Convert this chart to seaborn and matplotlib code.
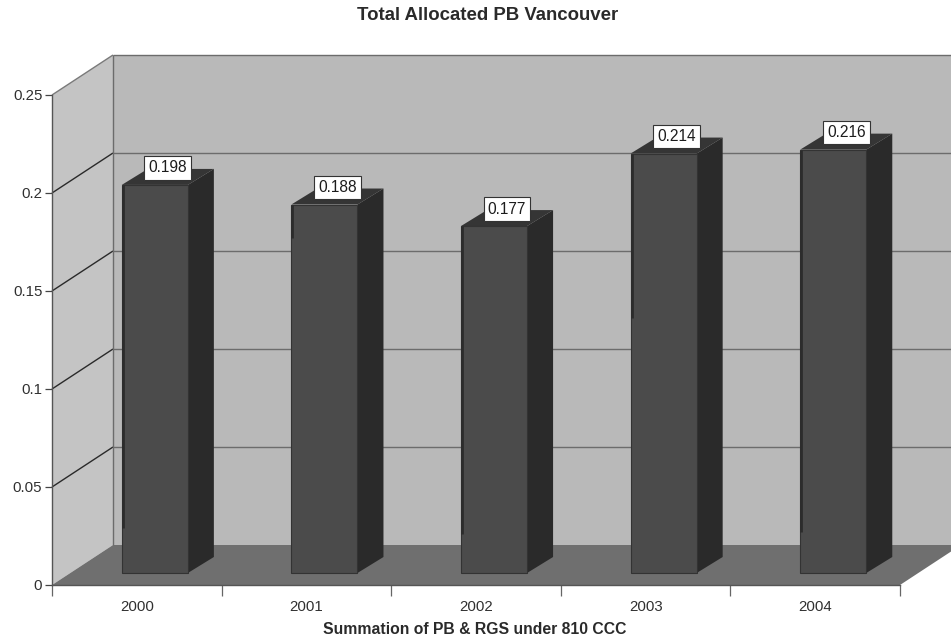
import matplotlib
matplotlib.use("Agg")
import matplotlib.pyplot as plt
import pandas as pd
import seaborn as sns
from matplotlib.patches import Polygon
from matplotlib.transforms import Affine2D, IdentityTransform

# Allocated PB by year
years = ["2000", "2001", "2002", "2003", "2004"]
allocated = [0.198, 0.188, 0.177, 0.214, 0.216]
# Level where the dark streak down each bar's left edge stops
streak_end = [0.023, 0.171, 0.020, 0.130, 0.021]
value_ticks = [0, 0.05, 0.1, 0.15, 0.2, 0.25]
value_tick_labels = ["0", "0.05", "0.1", "0.15", "0.2", "0.25"]
chart_title = "Total Allocated PB Vancouver"
axis_title = "Summation of PB & RGS under 810 CCC"

# Pseudo-3D depth, in pixels
WALL_SHIFT = (61, 40)
BAR_SHIFT = (18, 12)
BAR_DEPTH = (26, 16)

FRONT = "#4b4b4b"
SIDE = "#2a2a2a"
TOP = "#353535"
BACK_WALL = "#b9b9b9"
LEFT_WALL = "#c4c4c4"
FLOOR = "#6f6f6f"
INK = "#303030"

sns.set_theme(style="white")
plt.rcParams["font.family"] = ["Liberation Sans", "DejaVu Sans"]

W, H = 951, 641
fig = plt.figure(figsize=(W / 100, H / 100), dpi=100, facecolor="white")
ax = fig.add_axes([52 / W, (H - 585) / H, 848 / W, 490 / H])
ax.patch.set_alpha(0)

df = pd.DataFrame({"year": years, "allocated": allocated})
sns.barplot(data=df, x="year", y="allocated", color=FRONT, saturation=1,
            width=0.39, ax=ax, zorder=5, edgecolor="#333333", linewidth=0.8)
bars = list(ax.patches)

ax.set_xlim(-0.5, len(years) - 0.5)
ax.set_ylim(0, 0.25)
fig.canvas.draw()


def to_px(x, y):
    return ax.transData.transform((x, y))


def shifted(point, shift):
    return (point[0] + shift[0], point[1] + shift[1])


def face(points, color, zorder):
    ax.add_patch(Polygon(points, closed=True, facecolor=color, edgecolor="none",
                         transform=IdentityTransform(), clip_on=False, zorder=zorder))


def segment(p, q, color, lw, zorder):
    ax.plot([p[0], q[0]], [p[1], q[1]], color=color, lw=lw,
            transform=IdentityTransform(), clip_on=False, zorder=zorder,
            solid_capstyle="butt")


x0, x1 = ax.get_xlim()
y0, y1 = ax.get_ylim()
bl, br, tl, tr = to_px(x0, y0), to_px(x1, y0), to_px(x0, y1), to_px(x1, y1)

# Walls and floor
face([shifted(bl, WALL_SHIFT), shifted(br, WALL_SHIFT), shifted(tr, WALL_SHIFT), shifted(tl, WALL_SHIFT)], BACK_WALL, 1)
face([bl, shifted(bl, WALL_SHIFT), shifted(tl, WALL_SHIFT), tl], LEFT_WALL, 1)
face([bl, br, shifted(br, WALL_SHIFT), shifted(bl, WALL_SHIFT)], FLOOR, 2)

# Gridlines run along the back wall and step down the left wall
for v in value_ticks[1:]:
    p, q = to_px(x0, v), to_px(x1, v)
    segment(shifted(p, WALL_SHIFT), shifted(q, WALL_SHIFT), "#6c6c6c", 1.0, 3)
    segment(p, shifted(p, WALL_SHIFT), "#7a7a7a" if v == value_ticks[-1] else "#2a2a2a", 1.0, 3)
segment(shifted(bl, WALL_SHIFT), shifted(tl, WALL_SHIFT), "#6c6c6c", 1.0, 3)

# Bars: slide the front faces back, then add side and top faces
bar_offset = Affine2D().translate(*BAR_SHIFT)
for bar, value, stop in zip(bars, allocated, streak_end):
    left, width = bar.get_x(), bar.get_width()
    a = shifted(to_px(left + width, 0), BAR_SHIFT)
    b = shifted(to_px(left + width, value), BAR_SHIFT)
    c = shifted(to_px(left, value), BAR_SHIFT)
    d = shifted(to_px(left, stop), BAR_SHIFT)
    face([a, shifted(a, BAR_DEPTH), shifted(b, BAR_DEPTH), b], SIDE, 4)
    face([c, b, shifted(b, BAR_DEPTH), shifted(c, BAR_DEPTH)], TOP, 4)
    bar.set_transform(ax.transData + bar_offset)
    bar.set_clip_on(False)
    segment(shifted(d, (1, 0)), shifted(c, (1, 0)), "#2c2c2c", 2.0, 6)

    # Value tag sits over the middle of the bar's top face
    half_bar = width * (to_px(1, 0)[0] - to_px(0, 0)[0]) / 2
    ax.annotate(f"{value:.3f}", xy=c, xycoords=IdentityTransform(),
                xytext=((half_bar + 13) * 0.72, 17 * 0.72),
                textcoords="offset points", ha="center", va="center",
                fontsize=11.2, color="#1c1c1c", zorder=8, annotation_clip=False,
                bbox=dict(boxstyle="square,pad=0.27", facecolor="white",
                          edgecolor="#333333", linewidth=0.8))

# Axes frame
sns.despine(ax=ax, top=True, right=True)
for side in ("left", "bottom"):
    ax.spines[side].set_color("#555555")
    ax.spines[side].set_linewidth(1.0)
    ax.spines[side].set_zorder(6)

ax.set_yticks(value_ticks, value_tick_labels)
ax.set_xticks(range(len(years)), years)
ax.set_xticks([i - 0.5 for i in range(len(years) + 1)], minor=True)
ax.tick_params(axis="y", length=5, width=0.9, color="#444444", labelsize=10.8,
               labelcolor=INK, pad=2, left=True)
ax.tick_params(axis="x", which="major", length=0, labelsize=10.8, labelcolor=INK, pad=11)
ax.tick_params(axis="x", which="minor", length=8, width=0.9, color="#666666", bottom=True)
ax.set_xlabel("")
ax.set_ylabel("")
ax.grid(False)

fig.text(488 / W, 1 - 16 / H, chart_title, ha="center", va="center",
         fontsize=13.4, fontweight="bold", color="#2a2a2a")
fig.text(475 / W, 1 - 629.5 / H, axis_title, ha="center", va="center",
         fontsize=11.3, fontweight="bold", color="#2a2a2a")

fig.savefig("out.png", dpi=100)
